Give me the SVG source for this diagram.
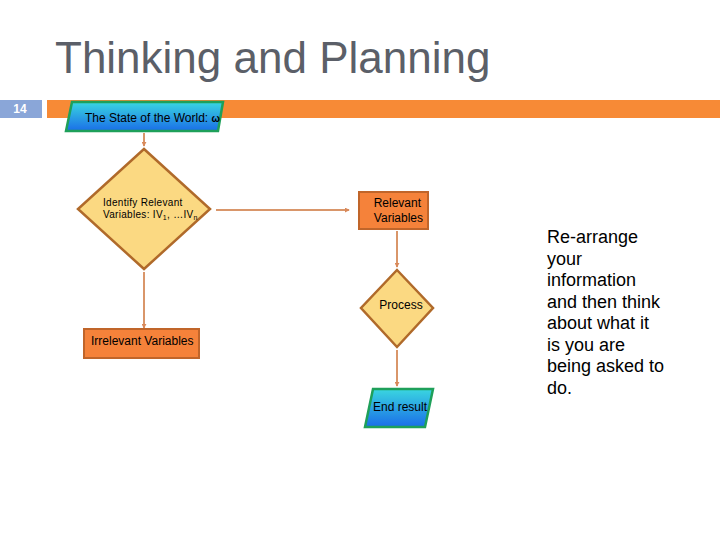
<svg xmlns="http://www.w3.org/2000/svg" width="720" height="540" viewBox="0 0 720 540">
<defs>
<linearGradient id="gb" x1="0" y1="0" x2="0" y2="1">
<stop offset="0" stop-color="#3ad6e0"/>
<stop offset="1" stop-color="#1a6ee8"/>
</linearGradient>
<marker id="ah" viewBox="0 0 6 6" refX="5" refY="3" markerWidth="5" markerHeight="5" orient="auto" markerUnits="userSpaceOnUse">
<path d="M0,0 L6,3 L0,6 z" fill="#d9895a"/>
</marker>
<style>
.t{font-family:"Liberation Sans",Arial,sans-serif;fill:#000}
.c{stroke:#d9966a;stroke-width:2;fill:none;marker-end:url(#ah)}
.dia{fill:#fbd982;stroke:#b06a2a;stroke-width:2.5}
.box{fill:#f5823a;stroke:#c0652a;stroke-width:2}
.io{fill:url(#gb);stroke:#1ea05a;stroke-width:2.5}
</style>
</defs>
<rect width="720" height="540" fill="#fff"/>
<text x="55" y="73" font-family="'Liberation Sans',Arial,sans-serif" font-size="44" fill="#5b5f68">Thinking and Planning</text>
<rect x="0" y="100" width="42" height="18" fill="#8aa6d8"/>
<text x="20" y="113" font-family="'Liberation Sans',Arial,sans-serif" font-size="12" font-weight="bold" fill="#fff" text-anchor="middle">14</text>
<rect x="47" y="100" width="673" height="18" fill="#f78a36"/>
<g id="connectors">
<line class="c" x1="144" y1="133" x2="144" y2="146"/>
<line class="c" x1="216" y1="210" x2="349" y2="210"/>
<line class="c" x1="144" y1="272" x2="144" y2="328"/>
<line class="c" x1="397" y1="231" x2="397" y2="267"/>
<line class="c" x1="397" y1="350" x2="397" y2="386"/>
</g>
<g id="world">
<polygon class="io" points="72,102 223,102 218,131 66,131"/>
<text class="t" x="85" y="122" font-size="12">The State of the World: <tspan font-weight="bold" font-size="10">ω</tspan></text>
</g>
<g id="identify">
<polygon class="dia" points="144,149 210,209 144,269 78,209"/>
<text class="t" x="103" y="206" font-size="10" letter-spacing="0.3">Identify Relevant</text>
<text class="t" x="103" y="218" font-size="10" letter-spacing="0.3">Variables: IV<tspan font-size="7" dy="2">1</tspan><tspan dy="-2">, …IV</tspan><tspan font-size="7" dy="2">n</tspan></text>
</g>
<g id="relevant">
<rect class="box" x="359" y="192" width="69" height="37"/>
<text class="t" x="421" y="207" font-size="12" text-anchor="end">Relevant</text>
<text class="t" x="423" y="222" font-size="12" text-anchor="end">Variables</text>
</g>
<g id="irrelevant">
<rect class="box" x="84" y="329" width="115" height="29"/>
<text class="t" x="91" y="345" font-size="12">Irrelevant Variables</text>
</g>
<g id="process">
<polygon class="dia" points="397,270 433,308 397,347 361,308"/>
<text class="t" x="401" y="309" font-size="12" text-anchor="middle">Process</text>
</g>
<g id="end">
<polygon class="io" points="373,389 433,389 425,427 365,427"/>
<text class="t" x="373" y="411" font-size="12">End result</text>
</g>
<g id="note" font-family="'Liberation Sans',Arial,sans-serif" font-size="18" fill="#000">
<text x="547" y="243">Re-arrange</text>
<text x="547" y="264.5">your</text>
<text x="547" y="286">information</text>
<text x="547" y="307.5">and then think</text>
<text x="547" y="329">about what it</text>
<text x="547" y="350.5">is you are</text>
<text x="547" y="372">being asked to</text>
<text x="547" y="393.5">do.</text>
</g>
</svg>
